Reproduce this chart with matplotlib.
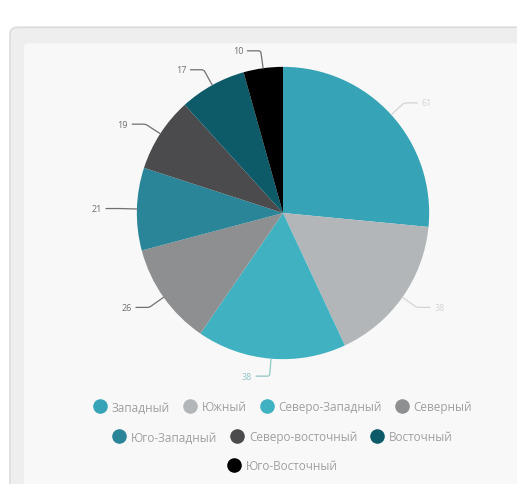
import numpy as np
import matplotlib.pyplot as plt
from matplotlib.lines import Line2D
from matplotlib.patches import FancyBboxPatch

# wind directions and their counts
directions = ['Западный', 'Южный', 'Северо-Западный', 'Северный',
              'Юго-Западный', 'Северо-восточный', 'Восточный', 'Юго-Восточный']
counts = [61, 38, 38, 26, 21, 19, 17, 10]
colors = ['#36a4b6', '#b2b6b8', '#40b1c1', '#8e8f91',
          '#2b8598', '#4b4a4d', '#0d5b69', '#000000']
label_colors = ['#d4d4d4', '#d4d4d4', '#8fc6c4', '#707070',
                '#707070', '#707070', '#707070', '#707070']
legend_rows = [[0, 1, 2, 3], [4, 5, 6], [7]]

plt.rcParams['font.family'] = ['Open Sans', 'DejaVu Sans']

W, H = 517, 485
fig = plt.figure(figsize=(W / 100, H / 100), dpi=100)
fig.patch.set_facecolor('#ffffff')

# card background
card = FancyBboxPatch((10 / W, -0.05), (W + 20) / W, (H - 4) / H,
                      boxstyle='round,pad=0,rounding_size=0.015',
                      transform=fig.transFigure, facecolor='#eeeeee',
                      edgecolor='#dcdcdc', linewidth=1.2, zorder=-10)
fig.patches.append(card)
inner = FancyBboxPatch((24 / W, -0.05), (W) / W, (H - 20) / H,
                       boxstyle='round,pad=0,rounding_size=0.01',
                       transform=fig.transFigure, facecolor='#f8f8f8',
                       edgecolor='none', zorder=-9)
fig.patches.append(inner)

# pie axes: center (283, 214) px, radius ~146 px
side = 380
cx, cy = 283, 214
ax = fig.add_axes([(cx - side / 2) / W, (H - cy - side / 2) / H, side / W, side / H])

wedges, _ = ax.pie(counts, colors=colors, startangle=90, counterclock=False,
                   radius=1.0, wedgeprops=dict(linewidth=0))
ax.set_xlim(-1.3, 1.3)
ax.set_ylim(-1.3, 1.3)
ax.set_aspect('equal')
ax.axis('off')

for w, n, lc in zip(wedges, counts, label_colors):
    mid = np.deg2rad((w.theta1 + w.theta2) / 2)
    px, py = np.cos(mid), np.sin(mid)
    tx, ty = 1.12 * px, 1.12 * py
    side_sign = 1 if px >= 0 else -1
    tx += side_sign * 0.12
    ax.annotate(str(n), xy=(px, py), xytext=(tx, ty),
                ha='left' if side_sign > 0 else 'right', va='center',
                fontsize=6.5, color=lc,
                arrowprops=dict(arrowstyle='-', color=lc, lw=0.9,
                                shrinkA=1, shrinkB=0,
                                connectionstyle=f'angle,angleA=0,angleB={np.rad2deg(mid):.1f},rad=2'))

# legend rows
row_y = [408, 438, 467]
for row, y in zip(legend_rows, row_y):
    handles = [Line2D([], [], marker='o', linestyle='none', markersize=10.5,
                      markerfacecolor=colors[i], markeredgecolor='none')
               for i in row]
    fig.legend(handles, [directions[i] for i in row], loc='center',
               bbox_to_anchor=(cx / W, 1 - y / H), ncol=len(row),
               frameon=False, fontsize=8.5, handletextpad=0.5,
               columnspacing=1.2, handlelength=1.0,
               labelcolor='#a0a0a0')

fig.savefig('out.png', dpi=100, facecolor=fig.get_facecolor())
